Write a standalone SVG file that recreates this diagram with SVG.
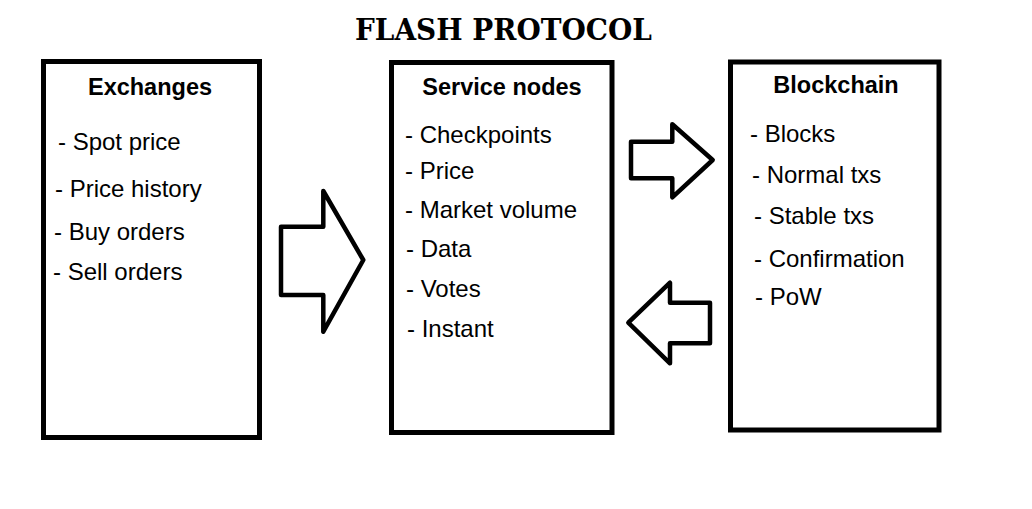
<svg xmlns="http://www.w3.org/2000/svg" width="1032" height="509" viewBox="0 0 1032 509">
<style>
.box{fill:#fff;stroke:#000;stroke-width:5}
.arrow{fill:#fff;stroke:#000;stroke-width:4.5;stroke-linejoin:round}
.h{font-family:"Liberation Sans",Arial,sans-serif;font-weight:bold;font-size:23.5px;fill:#000;text-anchor:middle}
.t{font-family:"Liberation Sans",Arial,sans-serif;font-size:24px;fill:#000}
.title{font-family:"DejaVu Serif","Liberation Serif",serif;font-weight:bold;font-size:30px;fill:#000}
</style>
<rect width="1032" height="509" fill="#fff"/>
<text class="title" x="355" y="40" textLength="297" lengthAdjust="spacingAndGlyphs">FLASH PROTOCOL</text>
<g id="exchanges">
<rect class="box" x="43.5" y="61.5" width="216" height="376"/>
<text class="h" x="150" y="95">Exchanges</text>
<text class="t" x="58" y="150">- Spot price</text>
<text class="t" x="55" y="197">- Price history</text>
<text class="t" x="54" y="240">- Buy orders</text>
<text class="t" x="53" y="280">- Sell orders</text>
</g>
<g id="service-nodes">
<rect class="box" x="391.5" y="62.5" width="220.5" height="370"/>
<text class="h" x="502" y="95">Service nodes</text>
<text class="t" x="405" y="143">- Checkpoints</text>
<text class="t" x="405" y="179">- Price</text>
<text class="t" x="405" y="218">- Market volume</text>
<text class="t" x="406" y="257">- Data</text>
<text class="t" x="406" y="297">- Votes</text>
<text class="t" x="407" y="337">- Instant</text>
</g>
<g id="blockchain">
<rect class="box" x="730.5" y="62" width="208.5" height="368"/>
<text class="h" x="836" y="93">Blockchain</text>
<text class="t" x="750" y="142">- Blocks</text>
<text class="t" x="752" y="183">- Normal txs</text>
<text class="t" x="754" y="224">- Stable txs</text>
<text class="t" x="754" y="267">- Confirmation</text>
<text class="t" x="755" y="305">- PoW</text>
</g>
<g id="connectors">
<polygon class="arrow" points="281,226.7 323.3,226.7 323.3,191 363.3,260 323.3,331.7 323.3,295 281,295"/>
<polygon class="arrow" points="631,141.7 672.3,141.7 672.3,124.3 712.7,160 672.3,197.3 672.3,178.3 631,178.3"/>
<polygon class="arrow" points="628.3,322.7 670,282.7 670,302.7 710,302.7 710,343.3 670,343.3 670,363.3"/>
</g>
</svg>
